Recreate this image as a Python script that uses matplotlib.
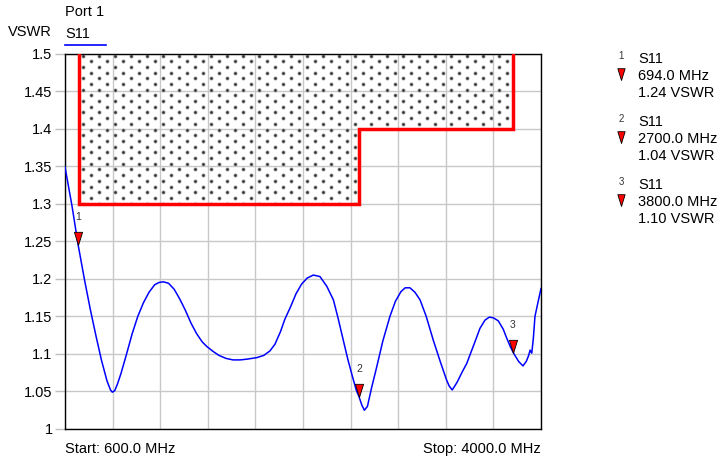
import numpy as np
import matplotlib.pyplot as plt
from matplotlib.path import Path
from matplotlib.patches import Polygon

plt.rcParams['font.family'] = ['Liberation Sans', 'DejaVu Sans']

# S11 trace (MHz, VSWR)
freq = [600, 650, 694, 740, 780, 820, 860, 900, 925, 938, 955, 975, 1000, 1040, 1080, 1120,
        1160, 1200, 1240, 1270, 1302, 1340, 1380, 1420, 1460, 1500, 1540, 1580,
        1612, 1660, 1700, 1750, 1800, 1850, 1900, 1969, 2020, 2064, 2100, 2140,
        2170, 2207, 2250, 2290, 2330, 2374, 2421, 2470, 2517, 2550, 2588, 2620,
        2650, 2680, 2700, 2720, 2738, 2760, 2790, 2827, 2870, 2921, 2960, 3000,
        3030, 3064, 3100, 3136, 3180, 3231, 3280, 3326, 3345, 3366, 3400, 3440,
        3469, 3520, 3564, 3600, 3631, 3660, 3695, 3730, 3755, 3780, 3804, 3840,
        3871, 3895, 3912, 3922, 3934, 3945, 3957, 3980, 4000]
vswr = [1.349, 1.297, 1.245, 1.198, 1.160, 1.125, 1.092, 1.064, 1.052, 1.049, 1.051, 1.060, 1.074,
        1.100, 1.127, 1.150, 1.168, 1.182, 1.192, 1.195, 1.196, 1.194, 1.186, 1.173,
        1.158, 1.141, 1.127, 1.116, 1.110, 1.103, 1.098, 1.094, 1.092, 1.092, 1.093,
        1.095, 1.098, 1.104, 1.113, 1.130, 1.146, 1.161, 1.180, 1.193, 1.201, 1.205,
        1.203, 1.190, 1.172, 1.148, 1.118, 1.093, 1.072, 1.052, 1.043, 1.032, 1.025,
        1.030, 1.055, 1.083, 1.117, 1.150, 1.170, 1.183, 1.188, 1.188, 1.182, 1.172,
        1.150, 1.118, 1.090, 1.065, 1.057, 1.052, 1.062, 1.077, 1.087, 1.112, 1.134,
        1.145, 1.149, 1.148, 1.144, 1.133, 1.121, 1.110, 1.101, 1.090, 1.084, 1.090,
        1.098, 1.105, 1.101, 1.120, 1.150, 1.170, 1.187]

# limit mask (upper)
mask_f = [698, 698, 2700, 2700, 3800, 3800]
mask_v = [1.5, 1.3, 1.3, 1.4, 1.4, 1.5]

# markers
mk_num = ['1', '2', '3']
mk_f = [694.0, 2700.0, 3800.0]
mk_v = [1.24, 1.04, 1.10]
mk_y = [1.245, 1.043, 1.101]

W, H = 720, 463
fig = plt.figure(figsize=(W / 100, H / 100), dpi=100)
ax = fig.add_axes([65 / W, 1 - 429 / H, 476 / W, 375.5 / H])

ax.set_xlim(600, 4000)
ax.set_ylim(1.0, 1.5)
ax.set_xticks(np.linspace(600, 4000, 11))
ax.set_yticks(np.arange(1.0, 1.5001, 0.05))
ax.set_yticklabels(['1', '1.05', '1.1', '1.15', '1.2', '1.25', '1.3', '1.35', '1.4', '1.45', '1.5'])
ax.tick_params(axis='x', length=0, labelbottom=False)
ax.tick_params(axis='y', length=7, color='#c0c0c0', width=1, labelsize=10.5, pad=2)
ax.grid(True, color='#c8c8c8', linewidth=1)
ax.set_axisbelow(True)
for s in ax.spines.values():
    s.set_color('black')
    s.set_linewidth(1)

# dotted fill of the masked region (pattern in pixel units, clipped to the mask)
region = Polygon(list(zip(mask_f, mask_v)), closed=True, transform=ax.transData,
                 facecolor='none', edgecolor='none', zorder=1.2)
ax.add_patch(region)
px_per_f = 476 / 3400
px_per_v = 375.5 / 0.5
dx, dy = 16 / px_per_f, 5.7 / px_per_v
dots_f, dots_v = [], []
for k, yv in enumerate(np.arange(1.5 - 2 / px_per_v, 1.29, -dy)):
    xs = np.arange(698 + (4 + 8 * (k % 2)) / px_per_f, 3800, dx)
    dots_f.extend(xs)
    dots_v.extend([yv] * len(xs))
sc_halo = ax.scatter(dots_f, dots_v, s=9, c='#b0b0b0', linewidths=0, zorder=1.3)
sc = ax.scatter(dots_f, dots_v, s=3.5, c='#303030', linewidths=0, zorder=1.4)
sc_halo.set_clip_path(region)
sc.set_clip_path(region)

ax.plot(mask_f, mask_v, color='#ff0000', linewidth=2.5, zorder=3, solid_joinstyle='miter')

ax.plot(freq, vswr, color='#0000ff', linewidth=1.1, zorder=4)

tri = Path([(-0.31, 1.0), (0.31, 1.0), (0.0, 0.0), (-0.31, 1.0)],
           [Path.MOVETO, Path.LINETO, Path.LINETO, Path.CLOSEPOLY])
for n, f, y in zip(mk_num, mk_f, mk_y):
    ax.plot([f], [y], marker=tri, ms=19, mfc='#ff0000', mec='black', mew=0.6,
            linestyle='none', zorder=5)
    ax.annotate(n, (f, y), xytext=(0, 20), textcoords='offset points',
                ha='center', va='center', fontsize=7.5, color='#333333', zorder=6)

def ftext(x, y, s, **kw):
    fig.text(x / W, 1 - y / H, s, **kw)

ftext(8, 32, 'VSWR', fontsize=10.5, va='center')
ftext(65, 12, 'Port 1', fontsize=10.5, va='center')
ftext(65, 34, 'S11', fontsize=10.5, va='center')
fig.add_artist(plt.Line2D([65 / W, 106 / W], [1 - 45 / H, 1 - 45 / H],
                          color='#0000ff', linewidth=1.2))
ftext(65, 449, 'Start: 600.0 MHz', fontsize=10.5, va='center')
ftext(541, 449, 'Stop: 4000.0 MHz', fontsize=10.5, va='center', ha='right')

# marker readout on the right
for i, (n, f, v) in enumerate(zip(mk_num, mk_f, mk_v)):
    y0 = 59 + i * 63
    ftext(621, y0 - 3, n, fontsize=7, ha='center', va='center', color='#333333')
    ftext(638, y0, 'S11', fontsize=10.5, va='center')
    ftext(638, y0 + 17, '%.1f MHz' % f, fontsize=10.5, va='center')
    ftext(638, y0 + 34, '%.2f VSWR' % v, fontsize=10.5, va='center')
    fig.add_artist(plt.Line2D([621 / W], [1 - (y0 + 21) / H], marker=tri, ms=17,
                              mfc='#ff0000', mec='black', mew=0.6, linestyle='none'))

fig.savefig('out.png', dpi=100)
